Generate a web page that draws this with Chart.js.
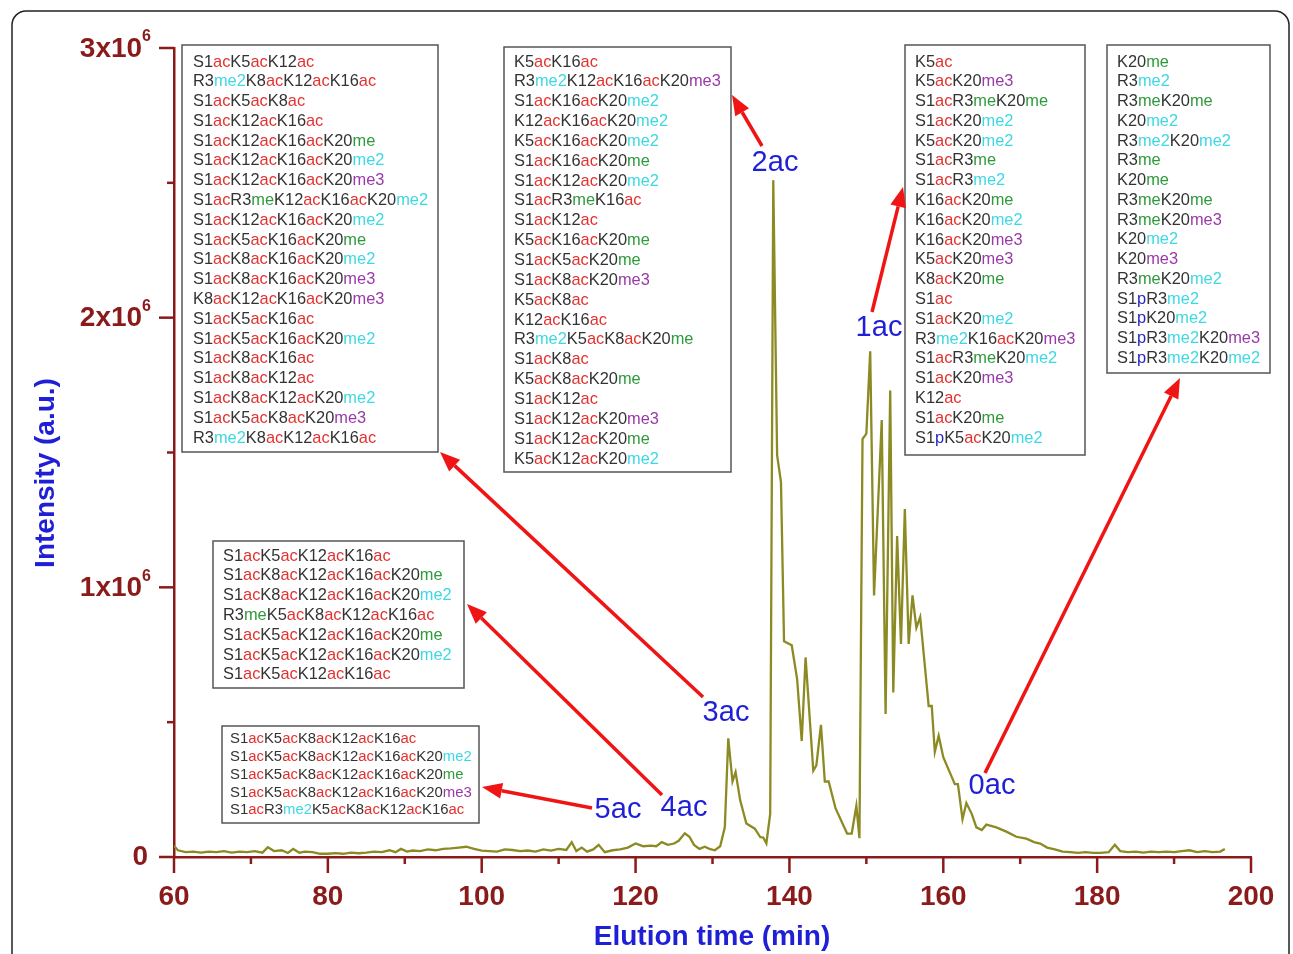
<!DOCTYPE html>
<html>
<head>
<meta charset="utf-8">
<script src="https://cdn.jsdelivr.net/npm/chart.js@4.4.1/dist/chart.umd.min.js"></script>
<style>
  html, body { margin: 0; padding: 0; background: #fff; }
  canvas { display: block; }
</style>
</head>
<body>
<canvas id="myChart" width="1293" height="954"></canvas>
<script>
// elution time (min) and intensity (a.u.)
const elutionTime = [60.0,60.5,61.5,62.5,63.5,64.5,65.5,66.5,67.5,68.5,69.5,70.5,71.5,72.2,73.0,74.0,74.8,75.5,76.3,77.0,
  78.0,79.0,80.0,81.0,82.0,83.0,84.0,85.0,86.0,87.0,88.0,88.8,89.5,90.3,91.0,92.0,93.0,94.0,95.0,96.0,
  97.0,98.0,99.0,100.0,101.0,102.0,103.0,104.0,105.0,106.0,107.0,108.0,109.0,110.0,111.0,111.7,112.3,113.0,113.7,114.5,
  115.2,116.0,117.0,118.0,119.0,120.0,120.5,121.0,122.0,122.7,123.4,124.2,125.0,125.6,126.4,127.0,127.6,128.3,129.0,129.6,
  130.3,131.0,131.6,132.05,132.6,133.0,133.6,134.4,135.5,136.2,136.6,137.0,137.5,137.9,138.4,138.9,139.3,140.3,141.0,141.6,
  142.1,143.1,143.5,144.1,144.6,145.1,146.0,147.5,148.1,148.7,149.1,149.5,150.0,150.5,151.0,152.0,152.5,153.1,153.5,154.0,
  154.5,155.0,155.5,156.0,156.5,157.0,157.4,158.1,158.5,158.9,159.4,160.0,160.9,161.5,161.9,162.5,163.0,163.7,164.3,165.0,
  165.6,166.9,168.2,169.5,170.8,171.8,172.6,173.5,174.5,175.5,176.5,177.5,178.5,179.5,180.5,181.5,182.3,183.0,184.0,185.0,
  186.0,187.0,188.0,189.0,190.0,191.0,192.0,193.0,194.0,195.0,196.0,196.6];
const intensity = [42000,25000,18000,20000,16000,20000,18000,22000,16000,20000,18000,22000,16000,36000,22000,25000,15000,30000,16000,20000,
  18000,12000,12000,14000,12000,16000,14000,16000,20000,18000,25000,18000,30000,20000,24000,22000,28000,25000,30000,32000,
  35000,38000,30000,24000,22000,20000,28000,26000,22000,24000,20000,28000,24000,30000,26000,55000,22000,35000,20000,28000,
  45000,18000,25000,28000,35000,50000,45000,40000,42000,40000,55000,45000,50000,60000,88000,75000,45000,30000,38000,30000,
  25000,40000,110000,440000,280000,315000,210000,124000,105000,74000,72000,50000,160000,2510000,1490000,1390000,800000,785000,660000,430000,
  740000,320000,340000,490000,280000,280000,180000,87000,87000,190000,70000,1550000,1570000,1875000,970000,1620000,530000,1730000,610000,1190000,
  790000,1290000,790000,970000,850000,890000,770000,560000,560000,390000,450000,370000,310000,270000,270000,140000,200000,160000,110000,100000,
  120000,110000,94000,75000,68000,55000,50000,35000,28000,20000,18000,15000,18000,15000,15000,18000,45000,22000,18000,20000,
  16000,20000,18000,20000,18000,22000,25000,18000,22000,18000,20000,30000];

const xTicks = [60, 80, 100, 120, 140, 160, 180, 200];
const yTicks = [0, 1, 2, 3]; // x10^6

// peptide forms per acetylation group
const forms5ac = ['S1acK5acK8acK12acK16ac','S1acK5acK8acK12acK16acK20me2','S1acK5acK8acK12acK16acK20me',
  'S1acK5acK8acK12acK16acK20me3','S1acR3me2K5acK8acK12acK16ac'];
const forms4ac = ['S1acK5acK12acK16ac','S1acK8acK12acK16acK20me','S1acK8acK12acK16acK20me2','R3meK5acK8acK12acK16ac',
  'S1acK5acK12acK16acK20me','S1acK5acK12acK16acK20me2','S1acK5acK12acK16ac'];
const forms3ac = ['S1acK5acK12ac','R3me2K8acK12acK16ac','S1acK5acK8ac','S1acK12acK16ac','S1acK12acK16acK20me',
  'S1acK12acK16acK20me2','S1acK12acK16acK20me3','S1acR3meK12acK16acK20me2','S1acK12acK16acK20me2','S1acK5acK16acK20me',
  'S1acK8acK16acK20me2','S1acK8acK16acK20me3','K8acK12acK16acK20me3','S1acK5acK16ac','S1acK5acK16acK20me2',
  'S1acK8acK16ac','S1acK8acK12ac','S1acK8acK12acK20me2','S1acK5acK8acK20me3','R3me2K8acK12acK16ac'];
const forms2ac = ['K5acK16ac','R3me2K12acK16acK20me3','S1acK16acK20me2','K12acK16acK20me2','K5acK16acK20me2',
  'S1acK16acK20me','S1acK12acK20me2','S1acR3meK16ac','S1acK12ac','K5acK16acK20me','S1acK5acK20me','S1acK8acK20me3',
  'K5acK8ac','K12acK16ac','R3me2K5acK8acK20me','S1acK8ac','K5acK8acK20me','S1acK12ac','S1acK12acK20me3',
  'S1acK12acK20me','K5acK12acK20me2'];
const forms1ac = ['K5ac','K5acK20me3','S1acR3meK20me','S1acK20me2','K5acK20me2','S1acR3me','S1acR3me2','K16acK20me',
  'K16acK20me2','K16acK20me3','K5acK20me3','K8acK20me','S1ac','S1acK20me2','R3me2K16acK20me3','S1acR3meK20me2',
  'S1acK20me3','K12ac','S1acK20me','S1pK5acK20me2'];
const forms0ac = ['K20me','R3me2','R3meK20me','K20me2','R3me2K20me2','R3me','K20me','R3meK20me','R3meK20me3',
  'K20me2','K20me3','R3meK20me2','S1pR3me2','S1pK20me2','S1pR3me2K20me3','S1pR3me2K20me2'];

const axisRed = '#8b1a1a';
const titleBlue = '#1f1fd6';
const modColors = { ac: '#e3312f', me: '#2f9a3c', me2: '#3ed8e4', me3: '#9a3aa8', p: '#2626c4' };

function richLine(ctx, str, x, y) {
  let cx = x;
  str.split(/(me3|me2|me|ac|p)/).filter(s => s).forEach(part => {
    ctx.fillStyle = modColors[part] || '#333';
    ctx.fillText(part, cx, y);
    cx += ctx.measureText(part).width;
  });
}

function box(ctx, lines, l, t, r, b, tx, y0, dy, size) {
  ctx.strokeStyle = '#555';
  ctx.lineWidth = 1.5;
  ctx.strokeRect(l, t, r - l, b - t);
  ctx.font = size + 'px "Liberation Sans", Arial, sans-serif';
  ctx.textBaseline = 'middle';
  ctx.textAlign = 'left';
  lines.forEach((s, i) => richLine(ctx, s, tx, y0 + i * dy));
}

function arrow(ctx, x1, y1, x2, y2) {
  const a = Math.atan2(y2 - y1, x2 - x1);
  const hl = 20, hw = 8;
  const bx = x2 - hl * Math.cos(a), by = y2 - hl * Math.sin(a);
  ctx.strokeStyle = '#f01414';
  ctx.fillStyle = '#f01414';
  ctx.lineWidth = 3.5;
  ctx.beginPath();
  ctx.moveTo(x1, y1);
  ctx.lineTo(bx, by);
  ctx.stroke();
  ctx.beginPath();
  ctx.moveTo(x2, y2);
  ctx.lineTo(bx + hw * Math.sin(a), by - hw * Math.cos(a));
  ctx.lineTo(bx - hw * Math.sin(a), by + hw * Math.cos(a));
  ctx.closePath();
  ctx.fill();
}

const decor = {
  id: 'decor',
  afterDraw(chart) {
    const ctx = chart.ctx;
    const xs = chart.scales.x, ys = chart.scales.y;
    const area = chart.chartArea;
    ctx.save();

    // outer frame
    ctx.strokeStyle = '#222';
    ctx.lineWidth = 1.5;
    ctx.beginPath();
    ctx.roundRect(12, 11, 1277, 980, 14);
    ctx.stroke();

    // tick marks
    ctx.strokeStyle = axisRed;
    ctx.lineWidth = 2.5;
    for (let v = 60; v <= 200; v += 10) {
      const px = xs.getPixelForValue(v);
      ctx.beginPath();
      ctx.moveTo(px, area.bottom);
      ctx.lineTo(px, area.bottom + (v % 20 === 0 ? 16 : 7));
      ctx.stroke();
    }
    for (let v = 0; v <= 3; v += 0.5) {
      const py = ys.getPixelForValue(v * 1e6);
      ctx.beginPath();
      ctx.moveTo(area.left, py);
      ctx.lineTo(area.left - (v % 1 === 0 ? 15 : 7), py);
      ctx.stroke();
    }

    // tick labels
    ctx.fillStyle = axisRed;
    ctx.font = 'bold 28px "Liberation Sans", Arial, sans-serif';
    ctx.textBaseline = 'middle';
    ctx.textAlign = 'center';
    xTicks.forEach(v => ctx.fillText(String(v), xs.getPixelForValue(v), area.bottom + 40));
    yTicks.forEach(v => {
      const py = ys.getPixelForValue(v * 1e6);
      if (v === 0) {
        ctx.font = 'bold 28px "Liberation Sans", Arial, sans-serif';
        ctx.textAlign = 'right';
        ctx.fillText('0', 148, py);
        return;
      }
      ctx.font = 'bold 16px "Liberation Sans", Arial, sans-serif';
      ctx.textAlign = 'right';
      ctx.fillText('6', 151, py - 11);
      const w6 = ctx.measureText('6').width;
      ctx.font = 'bold 28px "Liberation Sans", Arial, sans-serif';
      ctx.fillText(v + 'x10', 151 - w6, py + 1);
    });

    // axis titles
    ctx.fillStyle = titleBlue;
    ctx.font = 'bold 28px "Liberation Sans", Arial, sans-serif';
    ctx.textAlign = 'center';
    ctx.fillText('Elution time (min)', 712, 937);
    ctx.save();
    ctx.translate(46, 473);
    ctx.rotate(-Math.PI / 2);
    ctx.fillText('Intensity (a.u.)', 0, 0);
    ctx.restore();

    // annotation boxes
    box(ctx, forms3ac, 182, 45, 438, 452, 193, 62, 19.79, 16.4);
    box(ctx, forms2ac, 504, 47, 731, 472, 514, 62, 19.85, 16.4);
    box(ctx, forms1ac, 905, 45, 1085, 455, 915, 62, 19.79, 16.4);
    box(ctx, forms0ac, 1107, 45, 1270, 373, 1117, 62, 19.75, 16.4);
    box(ctx, forms4ac, 213, 541, 464, 688, 223, 556, 19.8, 16.4);
    box(ctx, forms5ac, 222, 726, 479, 823, 230, 739, 17.8, 14.9);

    // arrows
    arrow(ctx, 762, 146, 732, 95);
    arrow(ctx, 872, 312, 903, 187);
    arrow(ctx, 703, 697, 440, 452);
    arrow(ctx, 662, 795, 467, 604);
    arrow(ctx, 592, 808, 482, 787);
    arrow(ctx, 985, 773, 1180, 378);

    // peak group labels
    ctx.fillStyle = titleBlue;
    ctx.font = '29px "Liberation Sans", Arial, sans-serif';
    ctx.textAlign = 'center';
    ctx.textBaseline = 'middle';
    ctx.fillText('2ac', 775, 163);
    ctx.fillText('1ac', 879, 328);
    ctx.fillText('3ac', 726, 713);
    ctx.fillText('4ac', 684, 808);
    ctx.fillText('5ac', 618, 810);
    ctx.fillText('0ac', 992, 786);

    ctx.restore();
  }
};

new Chart(document.getElementById('myChart'), {
  type: 'line',
  data: {
    datasets: [{
      label: 'TIC',
      data: elutionTime.map((t, i) => ({ x: t, y: intensity[i] })),
      borderColor: '#8c8a22',
      borderWidth: 2.3,
      pointRadius: 0,
      tension: 0,
      fill: false
    }]
  },
  options: {
    responsive: false,
    animation: false,
    devicePixelRatio: 1,
    layout: { padding: { left: 174, right: 42, top: 48, bottom: 97 } },
    plugins: { legend: { display: false }, tooltip: { enabled: false } },
    scales: {
      x: {
        type: 'linear', min: 60, max: 200,
        ticks: { display: false },
        grid: { display: false, drawTicks: false },
        border: { display: true, color: axisRed, width: 2.5 },
        afterFit(s) { s.height = 0; }
      },
      y: {
        min: 0, max: 3e6,
        ticks: { display: false },
        grid: { display: false, drawTicks: false },
        border: { display: true, color: axisRed, width: 2.5 },
        afterFit(s) { s.width = 0; }
      }
    }
  },
  plugins: [decor]
});
</script>
</body>
</html>
